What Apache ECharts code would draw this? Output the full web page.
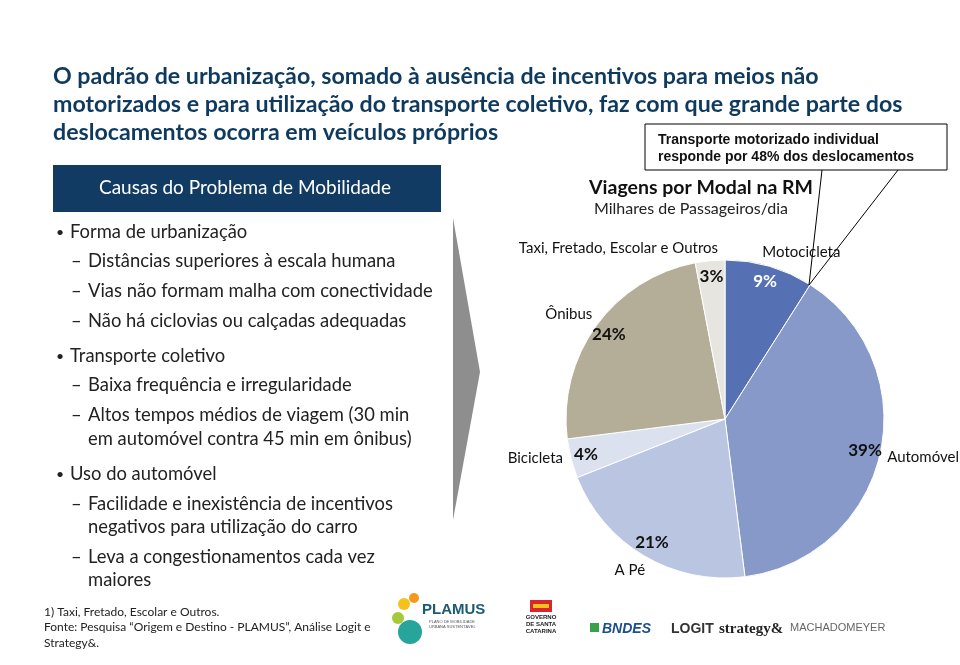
<!DOCTYPE html>
<html><head><meta charset="utf-8">
<script src="https://cdn.jsdelivr.net/npm/echarts@6/dist/echarts.min.js"></script>
<style>html,body{margin:0;padding:0;background:#fff}#c{width:960px;height:665px}</style>
</head><body><div id="c"></div>
<script>
// ---- data ----
const categories = ['Motocicleta', 'Automóvel', 'A Pé', 'Bicicleta', 'Ônibus', 'Taxi, Fretado, Escolar e Outros'];
const shares = [9, 39, 21, 4, 24, 3];
const slideTitle = ['O padrão de urbanização, somado à ausência de incentivos para meios não',
  'motorizados e para utilização do transporte coletivo, faz com que grande parte dos',
  'deslocamentos ocorra em veículos próprios'];
const chartTitle = 'Viagens por Modal na RM';
const chartSubtitle = 'Milhares de Passageiros/dia';
const calloutLines = ['Transporte motorizado individual', 'responde por 48% dos deslocamentos'];
const boxTitle = 'Causas do Problema de Mobilidade';
const causeLines = [
  [1, 'Forma de urbanização'],
  [2, 'Distâncias superiores à escala humana'],
  [2, 'Vias não formam malha com conectividade'],
  [2, 'Não há ciclovias ou calçadas adequadas'],
  [1, 'Transporte coletivo'],
  [2, 'Baixa frequência e irregularidade'],
  [2, 'Altos tempos médios de viagem (30 min'],
  [3, 'em automóvel contra 45 min em ônibus)'],
  [1, 'Uso do automóvel'],
  [2, 'Facilidade e inexistência de incentivos'],
  [3, 'negativos para utilização do carro'],
  [2, 'Leva a congestionamentos cada vez'],
  [3, 'maiores']
];
const footnotes = ['1) Taxi, Fretado, Escolar e Outros.',
  'Fonte: Pesquisa “Origem e Destino - PLAMUS”, Análise Logit e',
  'Strategy&.'];

// ---- layout / style (kept apart from data) ----
const FONT = 'Lato, "Open Sans", sans-serif';
const sliceColors = ['#5571b4', '#8799c9', '#b9c5e1', '#dce1ef', '#b4ad98', '#e7e5df'];
const pctColors = ['#ffffff', '#111111', '#111111', '#111111', '#111111', '#111111'];
const nameOffsets = [[-12, -14], [2, 3], [6, 14], [-3, 0], [1, -11], [13, -13]];
const causeY = [232, 261, 291, 321, 356, 385, 415, 439, 474, 504, 527, 557, 580];
const pieCenter = [725, 419];
const pieR = 159;

const chart = echarts.init(document.getElementById('c'), null, {renderer: 'canvas'});

const g = [];
// header box
g.push({type: 'rect', shape: {x: 53, y: 165, width: 388, height: 47}, style: {fill: '#123b63'}});
g.push({type: 'text', style: {x: 245, y: 188, text: boxTitle, fill: '#fff', font: '19px ' + FONT, align: 'center', verticalAlign: 'middle'}});
// bullets
const bf = '18.4px ' + FONT;
causeLines.forEach((c, i) => {
  const lvl = c[0], y = causeY[i];
  if (lvl === 1) {
    g.push({type: 'text', style: {x: 56, y: y, text: '•', fill: '#222', font: '14px ' + FONT, verticalAlign: 'middle'}});
    g.push({type: 'text', style: {x: 70, y: y, text: c[1], fill: '#222', font: bf, verticalAlign: 'middle'}});
  } else if (lvl === 2) {
    g.push({type: 'text', style: {x: 71, y: y, text: '–', fill: '#222', font: bf, verticalAlign: 'middle'}});
    g.push({type: 'text', style: {x: 88, y: y, text: c[1], fill: '#222', font: bf, verticalAlign: 'middle'}});
  } else {
    g.push({type: 'text', style: {x: 88, y: y, text: c[1], fill: '#222', font: bf, verticalAlign: 'middle'}});
  }
});
// footnotes
footnotes.forEach((t, i) => {
  g.push({type: 'text', style: {x: 44, y: 612 + i * 15.5, text: t, fill: '#222', font: '12px ' + FONT, verticalAlign: 'middle'}});
});
// chevron
g.push({type: 'polygon', shape: {points: [[453, 218], [480, 372], [453, 520]]}, style: {fill: '#8e8e8e'}});
// callout
g.push({type: 'rect', shape: {x: 645, y: 124, width: 302, height: 46}, style: {fill: '#fff', stroke: '#000', lineWidth: 1}});
g.push({type: 'polyline', shape: {points: [[822, 170], [809, 285], [898, 170]]}, style: {stroke: '#000', lineWidth: 1, fill: null}, z: 10});
calloutLines.forEach((t, i) => {
  g.push({type: 'text', style: {x: 658, y: 140 + i * 17, text: t, fill: '#111', font: 'bold 14px "Liberation Sans", Arial, sans-serif', verticalAlign: 'middle'}});
});
// chart subtitle
g.push({type: 'text', style: {x: 691, y: 209, text: chartSubtitle, fill: '#222', font: '16px ' + FONT, align: 'center', verticalAlign: 'middle'}});
// logos (simplified)
const lf = '"Liberation Sans", Arial, sans-serif';
[[404, 604, 6, '#f4c21b'], [414, 598, 5, '#f39a1e'], [398, 618, 6, '#a4c93a'], [410, 632, 12, '#27a59a']].forEach(c => {
  g.push({type: 'circle', shape: {cx: c[0], cy: c[1], r: c[2]}, style: {fill: c[3]}});
});
g.push({type: 'text', style: {x: 422, y: 610, text: 'PLAMUS', fill: '#1c5a78', font: 'bold 15px ' + lf, verticalAlign: 'middle'}});
g.push({type: 'text', style: {x: 429, y: 624, text: 'PLANO DE MOBILIDADE\nURBANA SUSTENTÁVEL', fill: '#556', font: '4px ' + lf, verticalAlign: 'middle', lineHeight: 5}});
g.push({type: 'rect', shape: {x: 530, y: 600, width: 22, height: 12}, style: {fill: '#d8262d'}});
g.push({type: 'rect', shape: {x: 533, y: 604, width: 16, height: 4}, style: {fill: '#f2c318'}});
g.push({type: 'text', style: {x: 541, y: 624, text: 'GOVERNO\nDE SANTA\nCATARINA', fill: '#222', font: 'bold 6px ' + lf, align: 'center', verticalAlign: 'middle', lineHeight: 7}});
g.push({type: 'rect', shape: {x: 590, y: 623, width: 9, height: 9}, style: {fill: '#3aa14a'}});
g.push({type: 'text', style: {x: 602, y: 629, text: 'BNDES', fill: '#1a4f8f', font: 'italic bold 14px ' + lf, verticalAlign: 'middle'}});
g.push({type: 'text', style: {x: 671, y: 629, text: 'LOGIT', fill: '#333', font: 'bold 14px ' + lf, verticalAlign: 'middle'}});
g.push({type: 'text', style: {x: 719, y: 629, text: 'strategy&', fill: '#222', font: 'bold 15px "Liberation Serif", serif', verticalAlign: 'middle'}});
g.push({type: 'text', style: {x: 790, y: 628, text: 'MACHADOMEYER', fill: '#666', font: '11px ' + lf, verticalAlign: 'middle'}});

const option = {
  backgroundColor: '#fff',
  animation: false,
  title: [
    {text: slideTitle.join('\n'), left: 48, top: 58,
      textStyle: {fontFamily: FONT, fontSize: 23.2, fontWeight: 'bold', color: '#0f3a5f', lineHeight: 28}},
    {text: chartTitle, left: 696, top: 173, textAlign: 'center',
      textStyle: {fontFamily: FONT, fontSize: 19.5, fontWeight: 'bold', color: '#111'}}
  ],
  graphic: {elements: g},
  series: [
    {
      type: 'pie', center: pieCenter, radius: [0, pieR], startAngle: 90, clockwise: true,
      avoidLabelOverlap: false, silent: true,
      itemStyle: {borderColor: '#fff', borderWidth: 1},
      label: {show: true, position: 'outside', formatter: '{b}', fontFamily: FONT, fontSize: 15, color: '#111', distanceToLabelLine: 5},
      labelLine: {show: false, length: 0, length2: 0},
      labelLayout: p => ({dx: nameOffsets[p.dataIndex][0], dy: nameOffsets[p.dataIndex][1]}),
      data: categories.map((n, i) => ({name: n, value: shares[i], itemStyle: {color: sliceColors[i]}}))
    },
    {
      type: 'pie', center: pieCenter, radius: [122, pieR], startAngle: 90, clockwise: true,
      avoidLabelOverlap: false, silent: true,
      itemStyle: {color: 'rgba(0,0,0,0)'},
      label: {show: true, position: 'inside', formatter: '{c}%', fontFamily: FONT, fontSize: 17, fontWeight: 'bold'},
      labelLine: {show: false},
      data: categories.map((n, i) => ({name: n, value: shares[i], label: {color: pctColors[i]}}))
    }
  ]
};
chart.setOption(option);
</script></body></html>
